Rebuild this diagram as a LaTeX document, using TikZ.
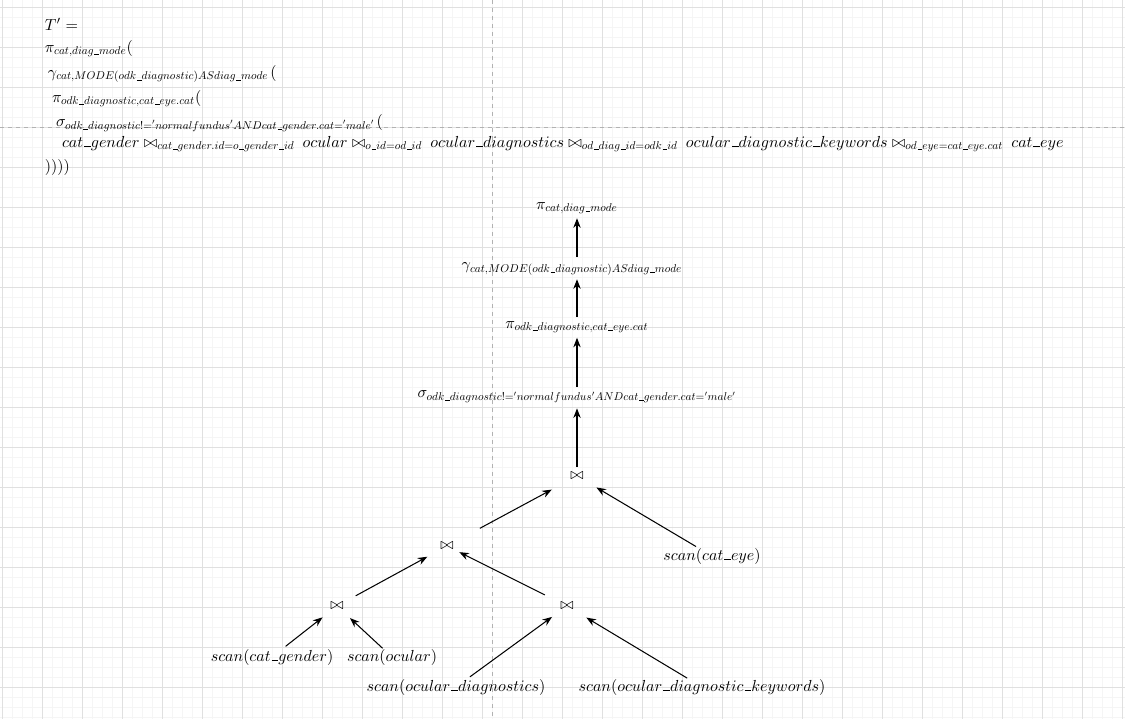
\RequirePackage{fix-cm}
\documentclass[tikz,border=0pt]{standalone}
\usepackage{amsmath}
\usepackage{graphicx}
\usetikzlibrary{arrows.meta}
% underscore drawn as a rule
\newcommand{\ub}{\text{\kern.06em\vbox{\hrule width.42em}}}
% subscript: the 10pt design scaled down, with script-style spacing
\newcommand{\sbx}[1]{\scalebox{0.707}{$\thinmuskip=0mu\medmuskip=0mu\thickmuskip=0mu #1$}}
% join operator with its condition
\newcommand{\jn}[1]{\bowtie_{\sbx{#1}}\mkern4mu}
\begin{document}
\begin{tikzpicture}[x=0.625pt,y=-0.625pt,
  minorgrid/.style={draw=black!4, line width=0.55pt},
  majorgrid/.style={draw=black!12, line width=0.6pt},
  pagebreak/.style={draw=black!30, line width=0.55pt, dash pattern=on 2.5pt off 2.5pt},
  lbl/.style={inner sep=0pt, outer sep=0pt},
  eqline/.style={anchor=base west, inner sep=0pt, outer sep=0pt},
  flow/.style={-{Stealth[length=6pt,width=4.6pt]}, line width=0.65pt},
]
% canvas and grid
\useasboundingbox (0,0) rectangle (1125,719);
\fill[white] (0,0) rectangle (1125,719);
\foreach \x in {2,12,...,1122} \draw[minorgrid] (\x,0) -- (\x,719);
\foreach \y in {7,17,...,717} \draw[minorgrid] (0,\y) -- (1125,\y);
\foreach \x in {2,42,...,1122} \draw[majorgrid] (\x,0) -- (\x,719);
\foreach \y in {7,47,...,687} \draw[majorgrid] (0,\y) -- (1125,\y);
\draw[pagebreak] (492,0) -- (492,719);
\draw[pagebreak] (0,127) -- (1125,127);

% algebra expression
\node[eqline] (eqT) at (45,30) {$T' =$};
\node[eqline] (eqA) at (45,52) {$\pi_{\sbx{cat,diag\ub mode}}($};
\node[eqline] (eqB) at (48,77) {$\gamma_{\sbx{cat,MODE(odk\ub diagnostic)ASdiag\ub mode}}\mkern2mu($};
\node[eqline] (eqC) at (52,102) {$\pi_{\sbx{odk\ub diagnostic,cat\ub eye.cat}}($};
\node[eqline] (eqD) at (56,126) {$\sigma_{\sbx{odk\ub diagnostic!='normalfundus'ANDcat\ub gender.cat='male'}}\mkern2mu($};
\node[eqline] (eqE) at (62,147) {$cat\ub gender \jn{cat\ub gender.id=o\ub gender\ub id} ocular \jn{o\ub id=od\ub id} ocular\ub diagnostics \jn{od\ub diag\ub id=odk\ub id} ocular\ub diagnostic\ub keywords \jn{od\ub eye=cat\ub eye.cat} cat\ub eye$};
\node[eqline] (eqF) at (45,171) {$))))$};

% operator tree
\node[lbl] (p1) at (577,208) {$\pi_{\sbx{cat,diag\ub mode}}$};
\node[lbl] (g)  at (572,269) {$\gamma_{\sbx{cat,MODE(odk\ub diagnostic)ASdiag\ub mode}}$};
\node[lbl] (p2) at (577,327) {$\pi_{\sbx{odk\ub diagnostic,cat\ub eye.cat}}$};
\node[lbl] (s)  at (577,397) {$\sigma_{\sbx{odk\ub diagnostic!='normalfundus'ANDcat\ub gender.cat='male'}}$};
\node[lbl] (j1) at (577,476) {$\bowtie$};
\node[lbl] (j2) at (447,546) {$\bowtie$};
\node[lbl] (j3) at (337,606) {$\bowtie$};
\node[lbl] (j4) at (567,606) {$\bowtie$};
\node[lbl] (ce) at (712,556) {$scan(cat\ub eye)$};
\node[lbl] (cg) at (272,657) {$scan(cat\ub gender)$};
\node[lbl] (oc) at (392,657) {$scan(ocular)$};
\node[lbl] (od) at (456,687) {$scan(ocular\ub diagnostics)$};
\node[lbl] (ok) at (702,687) {$scan(ocular\ub diagnostic\ub keywords)$};

\coordinate (gx) at (577,269);
\draw[flow, shorten <=5.8pt, shorten >=7.1pt] (j1.center) -- (s.center);
\draw[flow, shorten <=6.4pt, shorten >=6.7pt] (s.center) -- (p2.center);
\draw[flow, shorten <=6.4pt, shorten >=6.4pt] (p2.center) -- (gx);
\draw[flow, shorten <=7.7pt, shorten >=6.4pt] (gx) -- (p1.center);
\draw[flow, shorten <=23.3pt, shorten >=17.9pt] (j2.center) -- (j1.center);
\draw[flow, shorten <=11.6pt, shorten >=14.1pt] (ce.center) -- (j1.center);
\draw[flow, shorten <=13.3pt, shorten >=14.0pt] (j3.center) -- (j2.center);
\draw[flow, shorten <=15.5pt, shorten >=8.6pt] (j4.center) -- (j2.center);
\draw[flow, shorten <=10.8pt, shorten >=11.5pt] (cg.center) -- (j3.center);
\draw[flow, shorten <=8.0pt, shorten >=11.1pt] (oc.center) -- (j3.center);
\draw[flow, shorten <=10.8pt, shorten >=11.6pt] (od.center) -- (j4.center);
\draw[flow, shorten <=10.8pt, shorten >=14.1pt] (ok.center) -- (j4.center);
\end{tikzpicture}
\end{document}
